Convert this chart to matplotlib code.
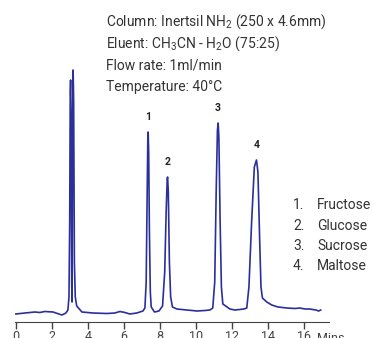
import matplotlib
matplotlib.use("Agg")
import matplotlib.pyplot as plt

# chromatogram trace (time in min, detector signal)
times = [0.0, 0.5, 1.06, 1.33, 1.6, 2.06, 2.56, 2.78, 2.89, 2.95,
         2.99, 3.02, 3.04, 3.07, 3.10, 3.12, 3.15, 3.18, 3.21, 3.25,
         3.30, 3.38, 3.67, 4.28, 5.06, 5.5, 5.78, 6.06, 6.33, 6.72,
         7.06, 7.17, 7.24, 7.29, 7.33, 7.35, 7.38, 7.42, 7.47, 7.52,
         7.7, 7.95, 8.15, 8.27, 8.35, 8.41, 8.43, 8.47, 8.53, 8.6,
         8.7, 8.94, 9.5, 10.06, 10.5, 10.78, 10.94, 11.05, 11.13, 11.2,
         11.24, 11.28, 11.35, 11.42, 11.5, 11.89, 12.17, 12.44, 12.67, 12.83,
         12.95, 13.1, 13.25, 13.37, 13.45, 13.55, 13.62, 13.7, 13.94, 14.22,
         14.56, 15.06, 15.5, 15.78, 16.06, 16.33, 16.67, 16.83, 16.94]
signal = [8, 9, 10, 9.5, 10.5, 10, 7, 9, 12, 25,
          100, 230, 242, 200, 40, 20, 200, 252, 220, 60,
          25, 16, 10, 9, 8.5, 9, 10.5, 9.5, 8, 9,
          11, 14, 40, 120, 182, 190, 170, 90, 30, 15,
          10, 11, 16, 50, 110, 143, 145, 130, 60, 25,
          15, 13, 12, 11, 11.5, 12, 14, 40, 130, 192,
          199, 185, 100, 35, 18, 13, 12, 12.5, 13, 14,
          35, 100, 155, 162, 150, 80, 35, 24, 20, 17,
          15, 14, 13.5, 14, 13, 13, 12, 11, 12]

peak_labels = ["1", "2", "3", "4"]
peak_times = [7.35, 8.43, 11.24, 13.37]
peak_heights = [190, 145, 199, 162]
compounds = ["Fructose", "Glucose", "Sucrose", "Maltose"]

conditions = ["Column: Inertsil NH$_2$ (250 x 4.6mm)",
              "Eluent: CH$_3$CN - H$_2$O (75:25)",
              "Flow rate: 1ml/min",
              "Temperature: 40\u00b0C"]

font = "Roboto"
plt.rcParams['font.family'] = [font, 'DejaVu Sans']
plt.rcParams['mathtext.fontset'] = 'custom'
plt.rcParams['mathtext.rm'] = font
plt.rcParams['mathtext.it'] = font

fig = plt.figure(figsize=(3.73, 3.38), dpi=100)
ax = fig.add_axes([15 / 373, 16 / 338, 314 / 373, 322 / 338])
ax.plot(times, signal, color="#2b2f9c", lw=1.2)

ax.set_xlim(-0.05, 17.4)
ax.set_ylim(0, 322)
for s in ["left", "top", "right"]:
    ax.spines[s].set_visible(False)
ax.spines["bottom"].set_color("#444444")
ax.set_yticks([])
ax.set_xticks(range(0, 17, 2))
ax.tick_params(axis="x", length=5, width=1, colors="#444444", pad=1, labelsize=9)
ax.text(16.75, -17, "Mins", fontsize=9, color="#444444", va="center", clip_on=False)

# peak numbers
for lab, t, h in zip(peak_labels, peak_times, peak_heights):
    ax.text(t, h + 10, lab, ha="center", va="bottom", fontsize=7.5, fontweight="bold",
            color="#222222")

# run conditions
for i, line in enumerate(conditions):
    ax.text(5.0, 300 - i * 21.5, line, fontsize=10, va="center", color="#333333")

# compound list
for i, (lab, name) in enumerate(zip(peak_labels, compounds)):
    y = 117 - i * 20.5
    ax.text(15.4, y, lab + ".", fontsize=10, va="center", color="#333333", clip_on=False)
    ax.text(16.75, y, name, fontsize=10, va="center", color="#333333", clip_on=False)

fig.savefig("out.png", dpi=100)
